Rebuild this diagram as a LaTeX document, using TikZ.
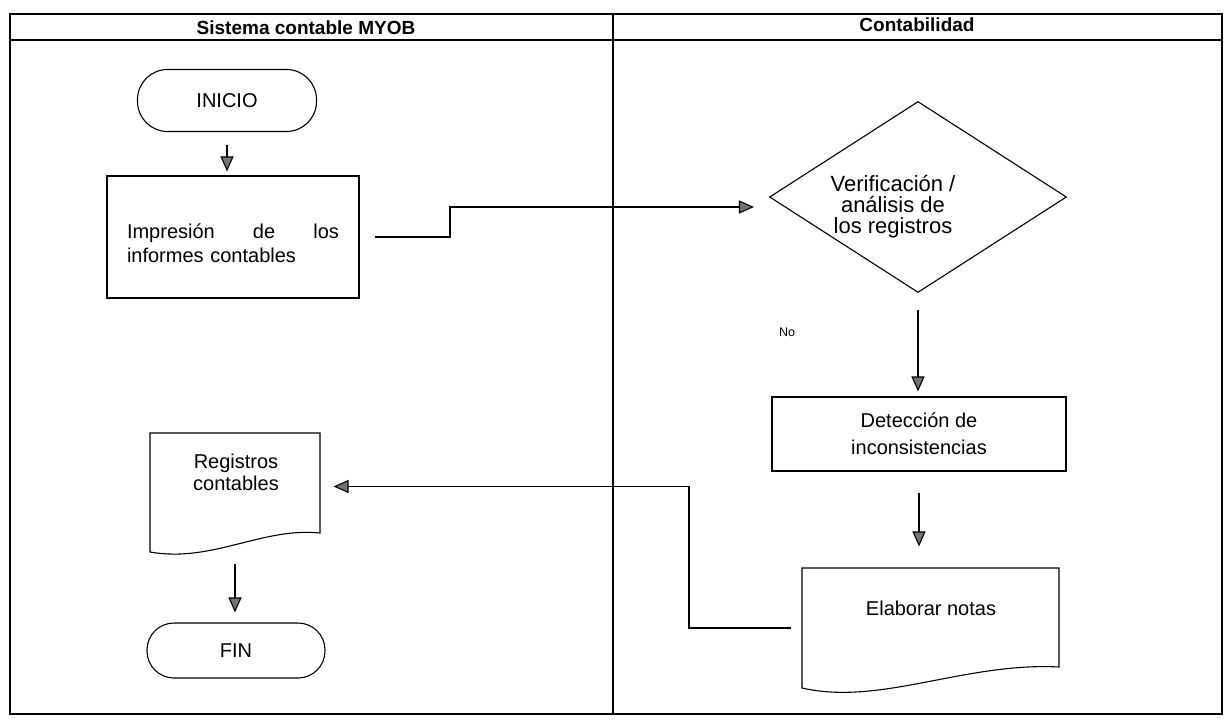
\documentclass[tikz,border=0pt]{standalone}
\usepackage{fontspec}
\setmainfont{Liberation Sans}
\usetikzlibrary{arrows.meta,shapes.geometric}
\begin{document}
\begin{tikzpicture}[x=1pt,y=-1pt,line width=1.1pt,
  frame/.style={line width=1.4pt},
  hdr/.style={font=\fontsize{19}{22}\selectfont\bfseries},
  body/.style={font=\fontsize{20}{24}\selectfont,align=center},
  term/.style={draw,rectangle,rounded corners=30pt,minimum width=179pt,minimum height=62pt,body},
  proc/.style={draw,rectangle,body},
  decis/.style={draw,diamond,minimum width=297pt,minimum height=191pt,inner sep=0pt},
  ghost/.style={rectangle,draw=none,inner sep=0pt},
  arr/.style={-{Triangle[length=15pt,width=13pt,fill=black!55]},line width=1.1pt},
  small/.style={font=\fontsize{12.5}{15}\selectfont}]
\useasboundingbox (0,0) rectangle (1226,722);
% frame
\draw[frame] (10,14) rectangle (1222,714);
\draw[frame] (10,40) -- (1222,40);
\draw[frame] (613,14) -- (613,714);
\node[hdr] (h1) at (306,27.5) {Sistema contable MYOB};
\node[hdr] (h2) at (917,25) {Contabilidad};
% left lane
\node[term] (ini) at (227,100.5) {INICIO};
\node[proc,minimum width=252pt,minimum height=122pt] (imp) at (233,237) {};
\node[body,text width=212pt,align=left] (impt) at (233,243) {Impresión\hfill de\hfill los\\informes contables};
\node[ghost,minimum width=170pt,minimum height=119pt] (reg) at (235,492.5) {};
\draw (150,433) -- (320,433) -- (320,533) .. controls (262,527) and (212,563) .. (150,552) -- cycle;
\node[body,font=\fontsize{20}{22}\selectfont] (regt) at (236,472) {Registros\\contables};
\node[term,minimum width=178pt,minimum height=55pt,rounded corners=27pt] (fin) at (236,650.5) {FIN};
% right lane
\node[decis] (dia) at (918,197) {};
\node[body,font=\fontsize{22}{21}\selectfont] (diat) at (893,207) {Verificación /\\análisis de\\los registros};
\node[small] (no) at (787,332) {No};
\node[proc,minimum width=294pt,minimum height=74pt,font=\fontsize{20}{27}\selectfont] (det) at (919,434) {Detección de\\inconsistencias};
\node[ghost,minimum width=257pt,minimum height=120pt] (ela) at (930.5,628) {};
\draw (802,568) -- (1059,568) -- (1059,667) .. controls (965,662) and (880,706) .. (802,688) -- cycle;
\node[body] (elat) at (931,608) {Elaborar notas};
% connectors
\draw[arr,shorten <=13pt,shorten >=4pt] (ini.south) -- (ini.south |- imp.north);
\draw[arr,shorten <=15pt,shorten >=15pt] (imp.east) -- (450,237) |- ([yshift=-10pt]dia.west);
\draw[arr,shorten <=17pt,shorten >=5pt] (dia.south) -- (dia.south |- det.north);
\draw[arr,shorten <=21pt,shorten >=21pt] (det.south) -- (det.south |- ela.north);
\draw[arr,shorten <=10pt,shorten >=13pt] (ela.west) -- (689,628) |- ([yshift=6pt]reg.east);
\draw[arr,shorten <=11pt,shorten >=10pt] (reg.south) -- (reg.south |- fin.north);
\end{tikzpicture}
\end{document}
